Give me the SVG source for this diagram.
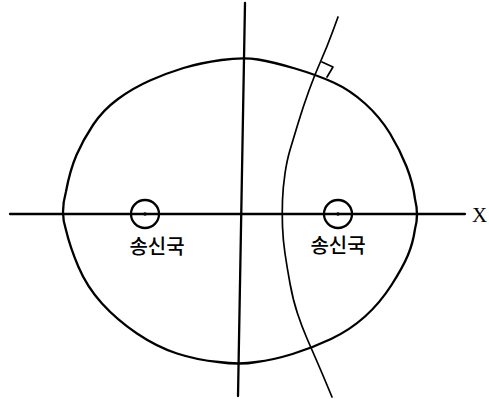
<svg xmlns="http://www.w3.org/2000/svg" width="489" height="399" viewBox="0 0 489 399">
<style>
.ln{fill:none;stroke:#000;stroke-width:2.3;stroke-linecap:round;stroke-linejoin:round}
.thin{fill:none;stroke:#000;stroke-width:1.7;stroke-linecap:round;stroke-linejoin:round}
.lbl{font-family:"Noto Sans CJK KR","Noto Sans",sans-serif;font-size:20px;font-weight:500;fill:#000;text-anchor:middle}
.ax{font-family:"Liberation Serif",serif;font-size:21px;fill:#000}
</style>
<rect width="489" height="399" fill="#fff"/>
<g id="connectors">
<line id="x-axis" class="ln" x1="10" y1="214" x2="465" y2="214"/>
<line id="y-axis" class="ln" x1="245" y1="3" x2="238" y2="396"/>
<path id="curve" class="thin" d="M338,17 L332.5,32 Q327,47 321,60.5 Q315,74 309,90.5 Q303,107 298,123.5 Q293,140 290,150 Q287,160 285,173.5 Q283,187 282.5,200 Q282,213 282.5,226.5 Q283,240 285,253.5 Q287,267 290,283.5 Q293,300 297.5,313.5 Q302,327 307,338.5 Q312,350 317,361.5 Q322,373 327,385 L332,397"/>
<path id="right-angle" class="thin" d="M322,62 L333,67 L327,77"/>
</g>
<g id="oval">
<path class="ln" d="M66,230 Q60,213 66,191.5 Q70,170 76.5,155 Q83,140 93,125 Q103,110 118,99 Q133,88 150,80.5 Q167,73 183.5,68 Q200,63 221.5,60 Q243,57 258,59.5 Q273,62 295,68.5 Q317,75 333.5,82.5 Q350,90 365,103.5 Q380,117 390,133.5 Q400,150 406.5,166.5 Q413,183 415,199 Q419,215 415,229 Q413,243 408,255 Q403,267 391.5,285 Q380,303 365,316.5 Q350,330 331,339 Q312,348 292.5,354 Q273,360 256.5,362 Q240,365 218.5,362 Q197,360 177,353.5 Q157,347 137,333.5 Q117,320 102,303.5 Q87,287 78.5,267 Q70,247 66,230 Z"/>
</g>
<g id="station-left">
<circle class="ln" cx="145" cy="214" r="14"/>
<circle cx="145" cy="214" r="1.8" fill="#000"/>
<text class="lbl" x="157" y="254">송신국</text>
</g>
<g id="station-right">
<circle class="ln" cx="338" cy="214" r="14"/>
<circle cx="338" cy="214" r="1.8" fill="#000"/>
<text class="lbl" x="338" y="253">송신국</text>
</g>
<g id="x-label">
<text class="ax" x="472" y="222">X</text>
</g>
</svg>
